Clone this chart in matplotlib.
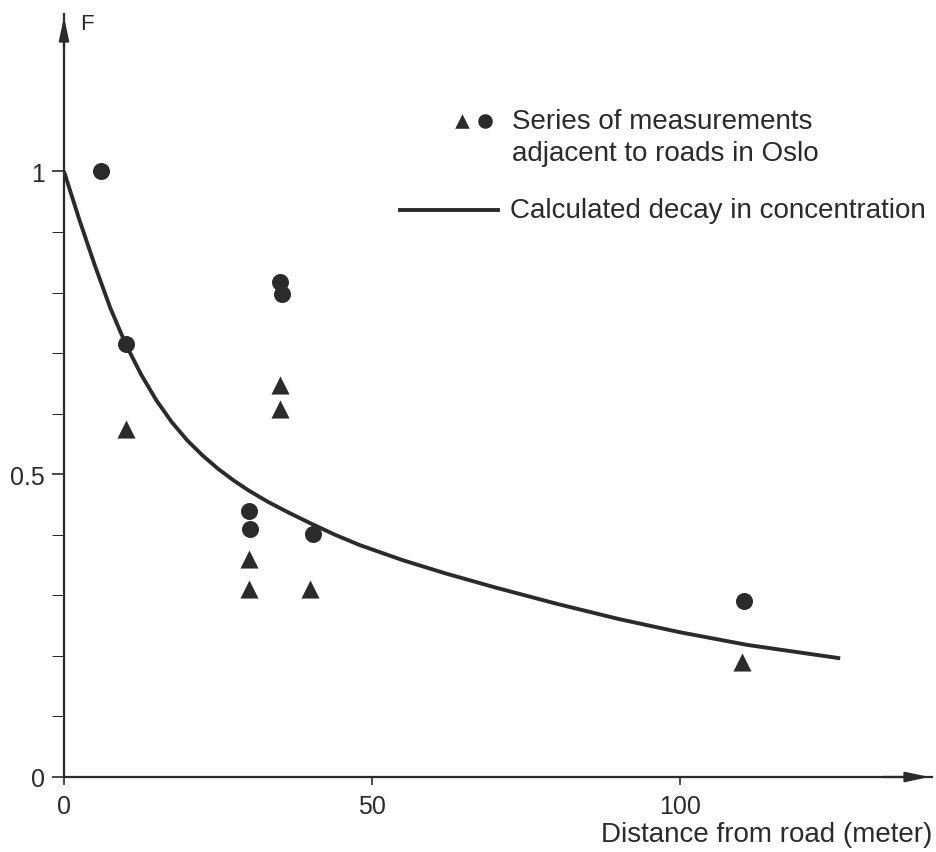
import numpy as np
import matplotlib.pyplot as plt

plt.rcParams['font.family'] = ['Liberation Sans', 'DejaVu Sans']

# measured F values next to roads (two series)
circle_x = [6, 10, 35, 35.4, 30, 30.2, 40.4, 110.4]
circle_f = [1.0, 0.715, 0.817, 0.797, 0.439, 0.409, 0.401, 0.29]
tri_x = [10, 35, 35, 30, 30, 40, 110]
tri_f = [0.574, 0.648, 0.607, 0.36, 0.31, 0.31, 0.19]

# calculated decay curve
curve_x = [0, 2.5, 5, 7.5, 10, 12.5, 15, 17.5, 20, 22.5, 25, 27.5, 30, 33,
           36, 40, 44, 48, 55, 62, 70, 80, 90, 100, 111, 126]
curve_f = [1.0, 0.92, 0.845, 0.775, 0.715, 0.665, 0.622, 0.586, 0.556, 0.531,
           0.509, 0.49, 0.473, 0.455, 0.439, 0.419, 0.40, 0.383, 0.358, 0.336,
           0.313, 0.286, 0.261, 0.239, 0.218, 0.196]

xticks = [0, 50, 100]
yticks = [0, 0.5, 1]
yticks_minor = [0.1, 0.2, 0.3, 0.4, 0.6, 0.7, 0.8, 0.9]

ink = '#2b2b2b'
W, H = 937, 853
fig = plt.figure(figsize=(W / 100, H / 100), dpi=100)
ax = fig.add_axes([64 / W, (H - 778) / H, (932 - 64) / W, (778 - 15) / H])
ax.set_xlim(0, 140.9)
ax.set_ylim(0, 1.26)

for s in ['top', 'right']:
    ax.spines[s].set_visible(False)
for s in ['left', 'bottom']:
    ax.spines[s].set_color(ink)
    ax.spines[s].set_linewidth(1.6)

ax.set_xticks(xticks)
ax.set_xticklabels([str(v) for v in xticks])
ax.set_yticks(yticks)
ax.set_yticklabels(['0', '0.5', '1'])
ax.set_yticks(yticks_minor, minor=True)
ax.tick_params(axis='both', colors=ink, labelsize=18, width=1.2)
ax.tick_params(axis='x', length=6, pad=6)
ax.tick_params(axis='y', which='both', length=9, pad=5)

# arrow heads on the axes
ax.annotate('', xy=(1.0, 0), xytext=(0.94, 0), xycoords='axes fraction',
            arrowprops=dict(arrowstyle='-|>,head_length=1.4,head_width=0.3',
                            color=ink, lw=1.6), annotation_clip=False)
ax.annotate('', xy=(0, 1.0), xytext=(0, 0.95), xycoords='axes fraction',
            arrowprops=dict(arrowstyle='-|>,head_length=1.4,head_width=0.3',
                            color=ink, lw=1.6), annotation_clip=False)

ax.plot(curve_x, curve_f, color=ink, lw=2.8, solid_capstyle='butt',
        solid_joinstyle='round', zorder=2)
ax.scatter(circle_x, circle_f, marker='o', s=150, color=ink, zorder=3, linewidths=0)
ax.scatter(tri_x, tri_f, marker='^', s=170, color=ink, zorder=3, linewidths=0)

ax.text(2.6, 1.245, 'F', fontsize=16, color=ink, va='center')
fig.text(932 / W, 1 - 835 / H, 'Distance from road (meter)', fontsize=20,
         color=ink, ha='right', va='center')

# key
ax.scatter([64.6], [1.084], marker='^', s=110, color=ink, linewidths=0, clip_on=False)
ax.scatter([68.3], [1.084], marker='o', s=110, color=ink, linewidths=0, clip_on=False)
ax.text(72.7, 1.084, 'Series of measurements', fontsize=20, color=ink, va='center')
ax.text(72.7, 1.031, 'adjacent to roads in Oslo', fontsize=20, color=ink, va='center')
ax.plot([54.5, 70.5], [0.937, 0.937], color=ink, lw=2.8)
ax.text(72.4, 0.937, 'Calculated decay in concentration', fontsize=20, color=ink,
        va='center')

fig.savefig('out.png', dpi=100, facecolor='white')
